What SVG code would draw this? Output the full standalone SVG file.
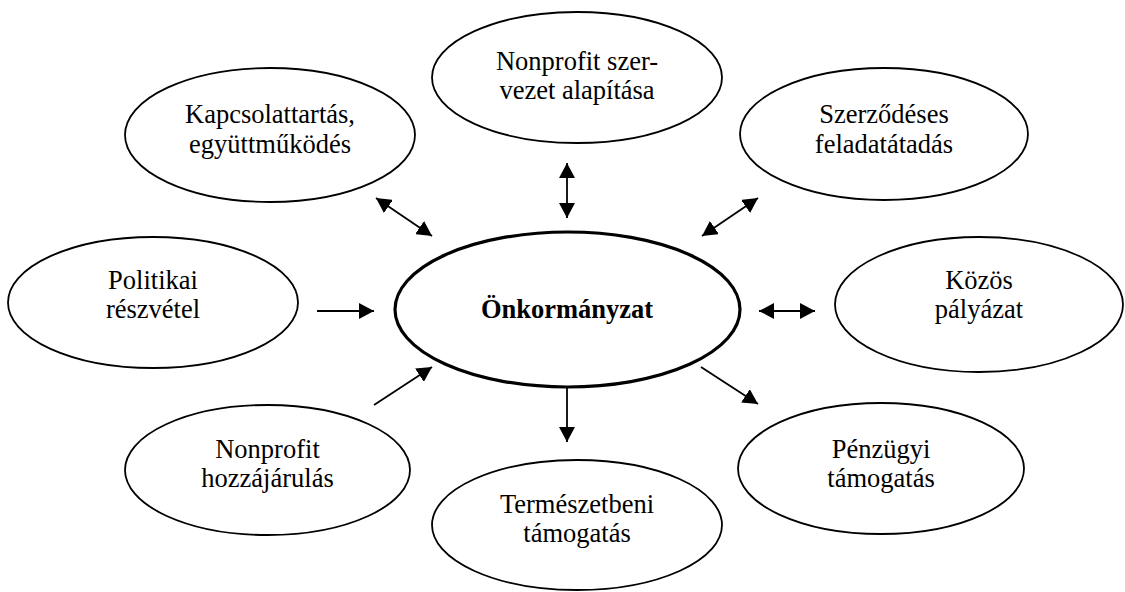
<svg xmlns="http://www.w3.org/2000/svg" width="1125" height="592" viewBox="0 0 1125 592">
  <style>
    .node ellipse { fill: #ffffff; stroke: #000000; stroke-width: 1.8; }
    #n-center ellipse { stroke-width: 3.2; }
    text { font-family: "Liberation Serif", "Times New Roman", serif; font-size: 26.5px; fill: #000000; text-anchor: middle; }
    #n-center text { font-weight: bold; font-size: 26.5px; }
    .conn line { stroke: #000000; stroke-width: 1.8; fill: none; }
  </style>
  <defs>
    <marker id="head" viewBox="0 0 15 16" refX="15" refY="8" markerWidth="15" markerHeight="16" markerUnits="userSpaceOnUse" orient="auto-start-reverse">
      <path d="M0,0 L15,8 L0,16 Z" fill="#000000"/>
    </marker>
  </defs>

  <rect width="1125" height="592" fill="#ffffff"/>

  <!-- connectors -->
  <g id="connectors" class="conn">
    <line x1="567" y1="163" x2="567" y2="218" marker-start="url(#head)" marker-end="url(#head)"/>
    <line x1="376" y1="198" x2="432" y2="236" marker-start="url(#head)" marker-end="url(#head)"/>
    <line x1="758" y1="198" x2="702" y2="236" marker-start="url(#head)" marker-end="url(#head)"/>
    <line x1="317" y1="311" x2="374" y2="311" marker-end="url(#head)"/>
    <line x1="759" y1="311" x2="815" y2="311" marker-start="url(#head)" marker-end="url(#head)"/>
    <line x1="374" y1="405" x2="432" y2="367" marker-end="url(#head)"/>
    <line x1="701" y1="367" x2="758" y2="404" marker-end="url(#head)"/>
    <line x1="567" y1="388" x2="567" y2="442" marker-end="url(#head)"/>
  </g>

  <!-- nodes -->
  <g id="n-center" class="node">
    <ellipse cx="567.5" cy="309.5" rx="172.5" ry="77.5"/>
    <text x="567" y="318">Önkormányzat</text>
  </g>
  <g id="n-kapcsolat" class="node">
    <ellipse cx="270" cy="135" rx="145" ry="67"/>
    <text x="270" y="123">Kapcsolattartás,</text>
    <text x="270" y="153">együttműködés</text>
  </g>
  <g id="n-nonprofit-alapitas" class="node">
    <ellipse cx="577" cy="77.5" rx="145" ry="65.5"/>
    <text x="577" y="70">Nonprofit szer-</text>
    <text x="577" y="99">vezet alapítása</text>
  </g>
  <g id="n-szerzodeses" class="node">
    <ellipse cx="884" cy="134" rx="144" ry="66"/>
    <text x="884" y="123">Szerződéses</text>
    <text x="884" y="153">feladatátadás</text>
  </g>
  <g id="n-politikai" class="node">
    <ellipse cx="153" cy="302.5" rx="145" ry="65.5"/>
    <text x="153" y="289">Politikai</text>
    <text x="153" y="318">részvétel</text>
  </g>
  <g id="n-kozos" class="node">
    <ellipse cx="979" cy="304.5" rx="144" ry="67.5"/>
    <text x="979" y="289">Közös</text>
    <text x="979" y="318">pályázat</text>
  </g>
  <g id="n-nonprofit-hozzajarulas" class="node">
    <ellipse cx="267.5" cy="470" rx="142.5" ry="65"/>
    <text x="267.5" y="458">Nonprofit</text>
    <text x="267.5" y="487">hozzájárulás</text>
  </g>
  <g id="n-penzugyi" class="node">
    <ellipse cx="881" cy="468.5" rx="143" ry="65.5"/>
    <text x="881" y="458">Pénzügyi</text>
    <text x="881" y="487">támogatás</text>
  </g>
  <g id="n-termeszetbeni" class="node">
    <ellipse cx="577" cy="525" rx="145" ry="65"/>
    <text x="577" y="513">Természetbeni</text>
    <text x="577" y="542">támogatás</text>
  </g>
</svg>
